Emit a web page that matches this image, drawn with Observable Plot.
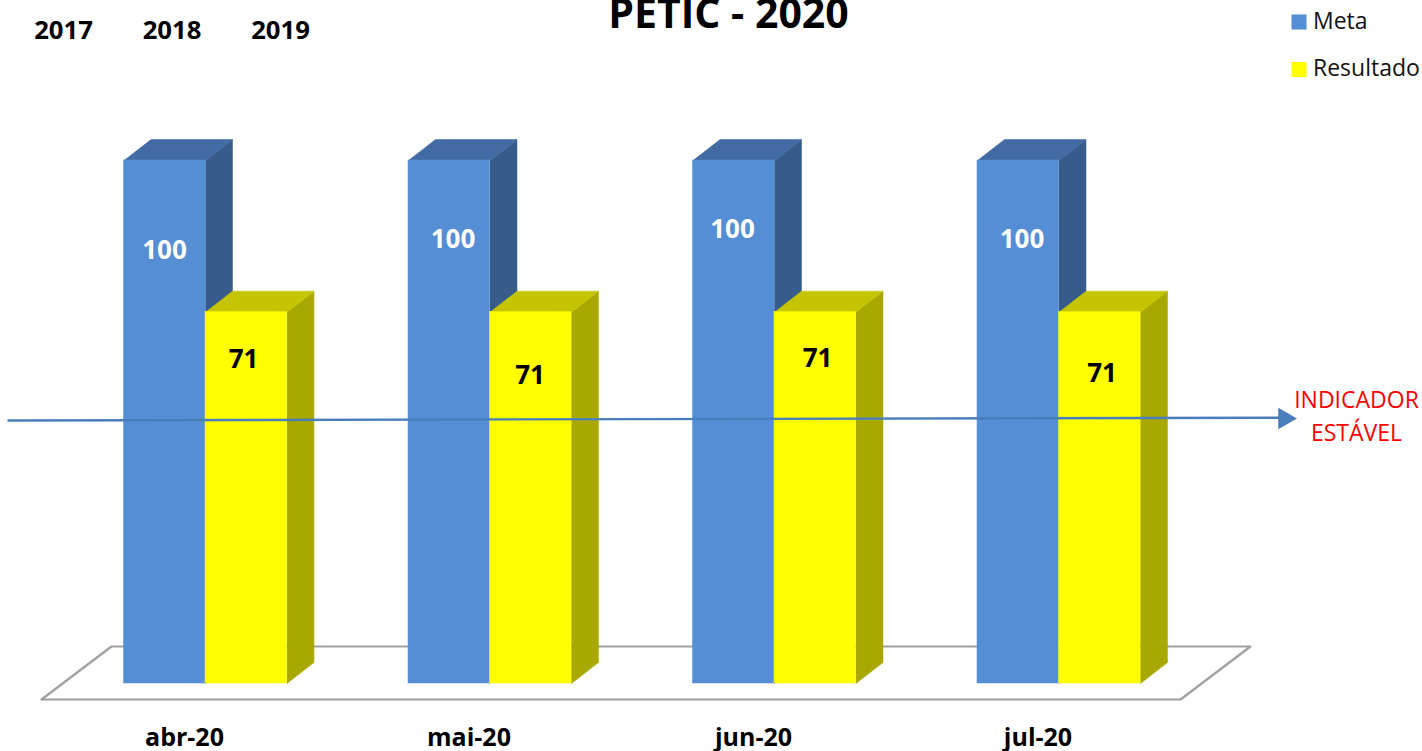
<!DOCTYPE html>
<html>
<head>
<meta charset="utf-8">
<style>html,body{margin:0;padding:0;background:#fff;overflow:hidden}svg{display:block}</style>
<script src="https://cdn.jsdelivr.net/npm/d3@7"></script>
<script src="https://cdn.jsdelivr.net/npm/@observablehq/plot@0.6"></script>
</head>
<body>
<div id="chart"></div>
<script>
const months = ["abr-20", "mai-20", "jun-20", "jul-20"];
const meta = [100, 100, 100, 100];
const resultado = [71, 71, 71, 71];
const years = ["2017", "2018", "2019"];
const seriesNames = ["Meta", "Resultado"];
const title = "PETIC - 2020";
const note = ["INDICADOR", "ESTÁVEL"];

const W = 1422, H = 751;
const font = "'Open Sans', sans-serif";
const x = d3.scaleLinear([0, 3], [205, 1058.5]);
const y = d3.scaleLinear([0, 100], [683, 160]);
const ix = x.invert, iy = y.invert;
const barW = 81.5 / 284.5, depX = 27 / 284.5, depY = 21 / 5.23;

const face = (pts, fill) => Plot.line([...pts, pts[0]], {
  x: "0", y: "1", fill, stroke: fill, strokeWidth: 0.5, curve: "linear"
});

function bar(i, x0, v, front, side, top) {
  const x1 = x0 + barW;
  return [
    face([[x1, 0], [x1 + depX, depY], [x1 + depX, v + depY], [x1, v]], side),
    face([[x0, v], [x0 + depX, v + depY], [x1 + depX, v + depY], [x1, v]], top),
    Plot.rect([i], {x1: () => x0, x2: () => x1, y1: () => 0, y2: () => v, fill: front, stroke: front, strokeWidth: 0.5})
  ];
}

const floor = [[ix(41), iy(699)], [ix(111), iy(646)], [ix(1250), iy(646)], [ix(1180), iy(699)]];
const metaOffsets = [[-41, 90], [-37, 79], [-42, 69], [-37, 79]];
const resOffsets = [[38, 48], [40, 64], [43, 47], [43, 62]];

const pinned = (text, dx, dy, o = {}) => Plot.text([text], {
  text: d => d, frameAnchor: "top-left", dx, dy, textAnchor: "middle", lineAnchor: "middle",
  fontFamily: font, fill: "#000", ...o
});

const marks = [
  Plot.line([...floor, floor[0]], {x: "0", y: "1", stroke: "#a0a0a0", strokeWidth: 2.2, curve: "linear"}),
  ...months.flatMap((m, i) => [
    ...bar(i, i - barW, meta[i], "#558ed5", "#375c8b", "#426ba3"),
    ...bar(i, i, resultado[i], "#ffff00", "#a8a800", "#c4c400")
  ]),
  Plot.line([[ix(8), iy(420)], [ix(1282), iy(417.2)]], {x: "0", y: "1", stroke: "#4a7ebb", strokeWidth: 2.4, curve: "linear"}),
  Plot.dot([[ix(1284), iy(418)]], {x: "0", y: "1", symbol: "triangle", r: 8, fill: "#4a7ebb", rotate: 90}),
  ...months.flatMap((m, i) => [
    Plot.text([meta[i]], {x: () => i, y: () => meta[i], text: d => String(d), dx: metaOffsets[i][0], dy: metaOffsets[i][1],
      fontFamily: font, fontWeight: 700, fontSize: 26, fill: "#fff"}),
    Plot.text([resultado[i]], {x: () => i, y: () => resultado[i], text: d => String(d), dx: resOffsets[i][0], dy: resOffsets[i][1],
      fontFamily: font, fontWeight: 700, fontSize: 26, fill: "#000"})
  ]),
  Plot.text(months, {x: (d, i) => i, y: () => 0, text: d => d, dx: -21, dy: 54,
    fontFamily: font, fontWeight: 700, fontSize: 25, fill: "#000"}),
  ...years.map((t, i) => pinned(t, 63 + i * 108.5, 30, {fontWeight: 700, fontSize: 25.7})),
  pinned(title, 728, 14.5, {fontWeight: 700, fontSize: 41}),
  ...seriesNames.map((s, i) => pinned(s, 1312.5, 21 + i * 47, {textAnchor: "start", fontSize: 23, fill: "#111"})),
  ...seriesNames.map((s, i) => Plot.dot([s], {frameAnchor: "top-left", dx: 1298.5, dy: 21.5 + i * 47.5, symbol: "square", r: 8.5,
    fill: i ? "#ffff00" : "#558ed5"})),
  ...note.map((t, i) => pinned(t, 1356, 400 + i * 33, {fontSize: 23, fill: "#ff0000"}))
];

const chart = Plot.plot({
  width: W, height: H, margin: 0,
  x: {type: "linear", domain: x.domain(), range: x.range(), axis: null},
  y: {type: "linear", domain: y.domain(), range: y.range(), axis: null},
  style: {background: "#fff"},
  marks
});
document.getElementById("chart").appendChild(chart);
</script>
</body>
</html>
